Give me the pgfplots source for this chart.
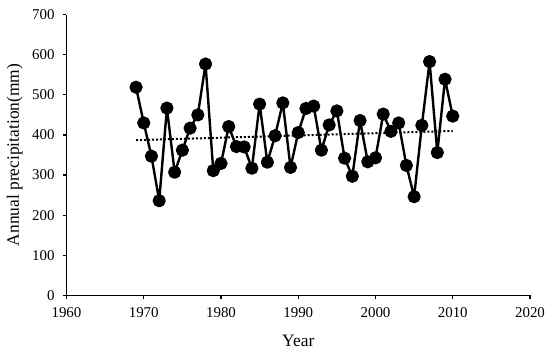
\documentclass[border=0pt]{standalone}
\usepackage{pgfplots}
\pgfplotsset{compat=1.18}
\usepackage{fontspec}
\setmainfont{Liberation Serif}
\begin{document}
\begin{tikzpicture}[x=1bp,y=1bp]
\begin{axis}[
  name=ax,
  scale only axis,
  width=463.5bp, height=280.6bp,
  xmin=1960, xmax=2020, ymin=0, ymax=700,
  xtick={1960,1970,...,2020}, ytick={0,100,...,700},
  axis lines=left,
  axis line style={line width=1.2bp,-},
  tick style={line width=1.2bp,black},
  tick align=outside,
  major tick length=4bp,
  x tick label style={/pgf/number format/1000 sep={}, anchor=base, yshift=-18bp},
  y tick label style={xshift=-4.5bp},
  /pgf/number format/assume math mode=true,
  ticklabel style={font=\fontsize{15}{17}\selectfont},
  xlabel={Year}, ylabel={Annual precipitation(mm)},
  label style={font=\fontsize{17.5}{20}\selectfont},
  xlabel style={at={(axis description cs:0.5,-0.1818)}, anchor=base},
  ylabel style={at={(axis description cs:-0.1025,0.5)}, anchor=base},
  clip=false,
]
\addplot[black, line width=2.4bp, line join=round, mark=*, mark size=5.4bp, mark options={solid}] coordinates {
(1969,519) (1970,430) (1971,347) (1972,236) (1973,467) (1974,307) (1975,362)
(1976,417) (1977,450) (1978,577) (1979,311) (1980,329) (1981,421) (1982,371)
(1983,370) (1984,317) (1985,477) (1986,332) (1987,398) (1988,480) (1989,319)
(1990,406) (1991,466) (1992,472) (1993,362) (1994,425) (1995,460) (1996,342)
(1997,297) (1998,436) (1999,333) (2000,343) (2001,452) (2002,409) (2003,430)
(2004,324) (2005,246) (2006,424) (2007,583) (2008,356) (2009,539) (2010,447)
};
\addplot[black, line width=2bp, dotted, no marks] coordinates {(1969,387) (2010,410)};
\end{axis}
\pgfresetboundingbox
\path (ax.south west) ++(-66.5bp,-56.7bp) coordinate (bl);
\path (bl) rectangle ++(550bp,352bp);
\end{tikzpicture}
\end{document}
